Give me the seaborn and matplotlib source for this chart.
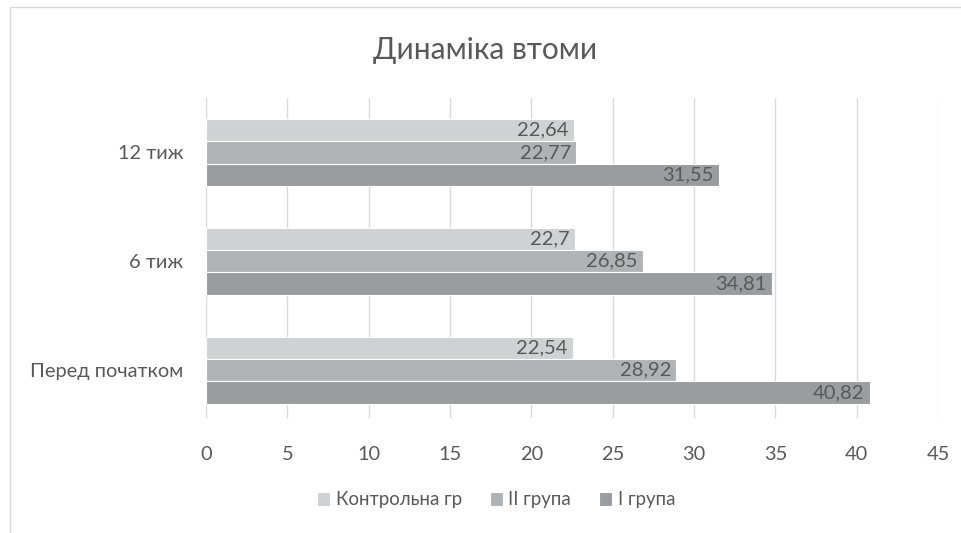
import numpy as np
import pandas as pd
import matplotlib
matplotlib.use("Agg")
import matplotlib.pyplot as plt
import seaborn as sns
from matplotlib.patches import Rectangle

# data
periods = ["12 тиж", "6 тиж", "Перед початком"]
groups = ["Контрольна гр", "II група", "I група"]
control_vals = [22.64, 22.7, 22.54]
group2_vals = [22.77, 26.85, 28.92]
group1_vals = [31.55, 34.81, 40.82]
x_ticks = [0, 5, 10, 15, 20, 25, 30, 35, 40, 45]

colors = ["#D0D1D3", "#B1B2B5", "#9B9CA0"]
text_col = "#595959"

df = pd.DataFrame({
    "period": periods * 3,
    "group": [groups[0]] * 3 + [groups[1]] * 3 + [groups[2]] * 3,
    "value": control_vals + group2_vals + group1_vals,
})

sns.set_style("white")
plt.rcParams["font.family"] = ["Lato", "DejaVu Sans"]

fig = plt.figure(figsize=(9.62, 5.33), dpi=100)
ax = fig.add_axes([206 / 962, 1 - 418 / 533, (938 - 206) / 962, 320 / 533])

sns.barplot(data=df, x="value", y="period", hue="group", order=periods,
            hue_order=groups, palette=colors, orient="h", width=0.615,
            edgecolor="white", linewidth=0.8, saturation=1, ax=ax)

ax.set_xlim(0, 45)
ax.set_ylim(2.44, -0.5)
ax.set_xticks(x_ticks)
ax.set_xticklabels([str(t) for t in x_ticks])
ax.tick_params(axis="x", length=0, pad=20, labelsize=14.4, labelcolor=text_col)
ax.tick_params(axis="y", length=0, pad=16.5, labelsize=14.4, labelcolor=text_col)
ax.set_xlabel("")
ax.set_ylabel("")
ax.grid(axis="x", color="#D9D9D9", linewidth=1)
ax.set_axisbelow(True)
for s in ax.spines.values():
    s.set_visible(False)

# value labels inside the bar ends
for cont in ax.containers:
    for p in cont:
        w = p.get_width()
        lab = f"{w:g}".replace(".", ",")
        ax.annotate(lab, (w, p.get_y() + p.get_height() / 2), xytext=(-4, 0),
                    textcoords="offset points", ha="right", va="center",
                    fontsize=14.5, color=text_col)

handles, labels = ax.get_legend_handles_labels()
ax.legend_.remove()
fig.legend(handles, labels, loc="center", bbox_to_anchor=(496 / 962, 1 - 500 / 533),
           ncol=3, frameon=False, fontsize=13.4, labelcolor=text_col,
           handlelength=0.7, handleheight=0.7, handletextpad=0.3, columnspacing=1.5)

fig.text(485 / 962, 1 - 50 / 533, "Динаміка втоми", ha="center", va="center",
         fontsize=21.5, color=text_col)

# chart area border (partly cropped in the reference)
fig.patches.append(Rectangle((10 / 962, -0.1), 1.1, 1.1 - 7 / 533,
                             transform=fig.transFigure, fill=False,
                             edgecolor="#D9D9D9", linewidth=1))

fig.savefig("out.png", dpi=100, facecolor="white")
